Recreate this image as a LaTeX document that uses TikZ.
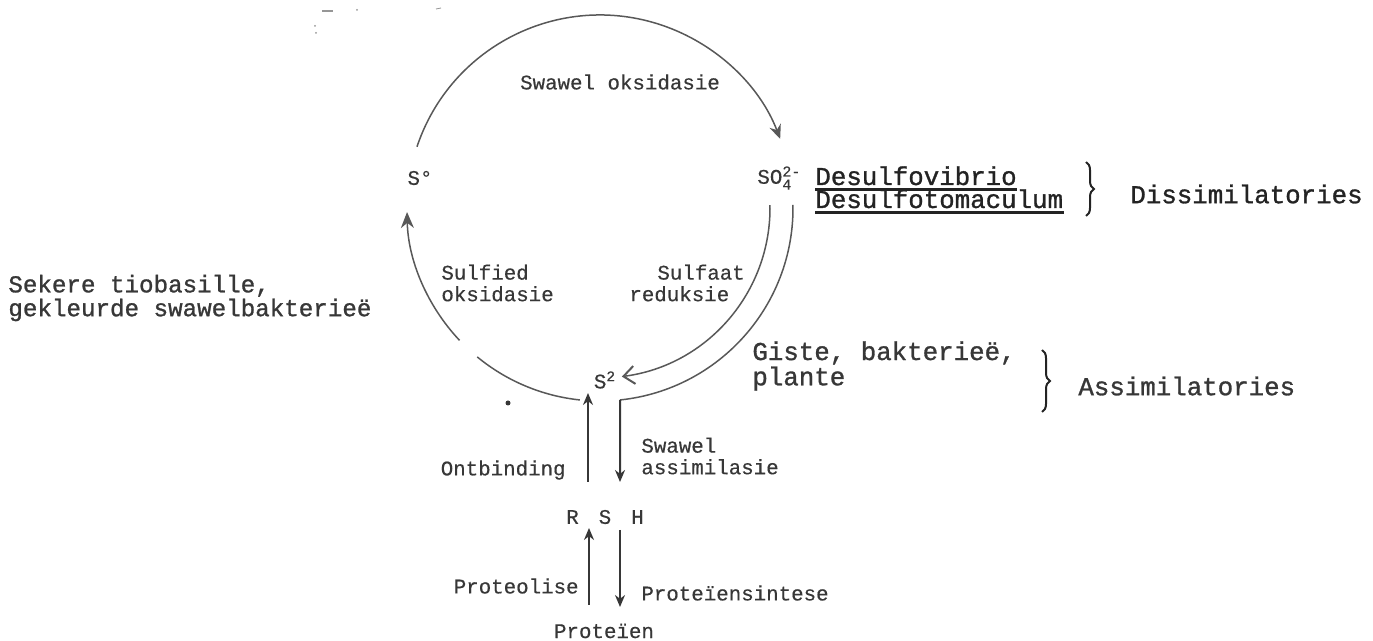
\documentclass[tikz,border=0pt]{standalone}
\usepackage{fontspec}
\setmonofont{Liberation Mono}[FakeBold=0.4]
\newfontfamily\twheavy{Liberation Mono}[FakeBold=1.1]
\usetikzlibrary{arrows.meta,calc,decorations.pathreplacing}
\definecolor{inkgray}{RGB}{55,55,55}
\definecolor{inkdark}{RGB}{35,35,35}
\definecolor{linegray}{RGB}{88,88,88}
\definecolor{dustgray}{RGB}{150,150,150}
\newcommand\szbig{\fontsize{12.9}{10.5}\selectfont}
\newcommand\szmid{\fontsize{12.1}{10.2}\selectfont}
\newcommand\szsmall{\fontsize{10.4}{10.8}\selectfont}
\newcommand\szidx{\fontsize{7.5}{8}\selectfont}

\begin{document}
\begin{tikzpicture}[x=0.5pt, y=-0.5pt, font=\ttfamily, text=inkgray,
      lbl/.style={inner sep=0pt, align=left, font=\ttfamily\szsmall},
      lblmid/.style={inner sep=0pt, align=left, font=\twheavy\szmid},
      lblbig/.style={inner sep=0pt, align=left, text=inkdark, font=\twheavy\szbig},
      cyc/.style={draw=linegray, line width=0.75pt},
      rod/.style={draw=inkgray, line width=1pt, -{Stealth[length=6pt,width=5pt]}},
      bracket/.style={draw=inkdark, line width=1pt, decorate, decoration={brace, amplitude=4pt}},
      uline/.style={draw=inkdark, line width=1.5pt}]
    \useasboundingbox (0,0) rectangle (1373,641);
    \coordinate (c) at (600,208);

    \node[lbl] (s0) at (420,178) {S°};
    \node[lbl, anchor=west] (so4) at (757,178) {SO$_{\mbox{\szidx 4}}^{\mbox{\szidx 2-}}$};
    \node[lbl] (s2) at (605,380) {S\textsuperscript{2}};
    \node[lbl] (rsh) at (605,517) {R\hspace{10pt}S\hspace{10pt}H};
    \node[lbl] (prot) at (604,631) {Proteïen};

    \node[lbl] (swox) at (620,82) {Swawel oksidasie};
    \node[lbl, anchor=west] (sulfied) at (441,283) {Sulfied\\oksidasie};
    \node[lbl, anchor=west] (sulfaat) at (629,283) {\hspace*{14pt}Sulfaat\\reduksie};
    \node[lbl, anchor=east] (ontb) at (566,470) {Ontbinding};
    \node[lbl, anchor=west] (swasm) at (641,456) {Swawel\\assimilasie};
    \node[lbl, anchor=east] (proteol) at (579,586) {Proteolise};
    \node[lbl, anchor=west] (protsin) at (641,593) {Proteïensintese};

    \node[lblmid, anchor=west] (sekere) at (8,298) {Sekere tiobasille,\\gekleurde swawelbakterieë};
    \node[lblbig, text=inkgray, anchor=west] (giste) at (752,366) {Giste, bakterieë,\\plante};

    \node[lblbig, anchor=base west] (desv) at (815,185) {Desulfovibrio};
    \node[lblbig, anchor=base west] (desm) at (815,208) {Desulfotomaculum};
    \node[lblbig, anchor=west] (dissim) at (1130,194) {Dissimilatories};
    \node[lblbig, text=inkgray, anchor=west] (assim) at (1078,386) {Assimilatories};

    \draw[uline] ([yshift=-2.5pt]desv.base west) -- ([yshift=-2.5pt]desv.base east);
    \draw[uline] ([yshift=-2.5pt]desm.base west) -- ([yshift=-2.5pt]desm.base east);
    \draw[bracket] (1086,162) -- (1086,216);
    \draw[bracket] (1042,350) -- (1042,412);

    \draw[cyc, -{Stealth[length=7pt,width=6pt]}] ($(c)+(198.5:193)$) arc[start angle=198.5, end angle=339, radius=193];
    \draw[cyc, -{Stealth[length=8pt,width=6.5pt]}] ($(c)+(136.7:193)$) arc[start angle=136.7, end angle=178.8, radius=193];
    \draw[cyc] ($(c)+(96:193)$) arc[start angle=96, end angle=129.5, radius=193];
    \draw[cyc, -{Straight Barb[length=5.5pt,width=9pt,line width=1pt]}] ($(c)+(-1:170)$) arc[start angle=-1, end angle=82.6, radius=170];
    \draw[cyc] ($(c)+(-0.9:193)$) arc[start angle=-0.9, end angle=84, radius=193] coordinate (asm);

    \draw[rod] (asm) -- ($(rsh)+(15,-35)$);
    \draw[rod] ($(rsh)+(-17,-35)$) -- ($(s2)+(-17,13)$);
    \draw[rod] ($(prot)+(-15,-26)$) -- ($(rsh)+(-16,11)$);
    \draw[rod] ($(rsh)+(15,13)$) -- ($(prot)+(16,-24)$);

    \fill[dustgray] (322,10) rectangle (333,12);
    \fill[dustgray] (357,10) circle[radius=1];
    \draw[dustgray] (436,9) -- (441,8);
    \fill[dustgray] (315,26) circle[radius=1] (316,33) circle[radius=1];
    \fill[inkgray] (508,403) circle[radius=2.5];
  \end{tikzpicture}
\end{document}
